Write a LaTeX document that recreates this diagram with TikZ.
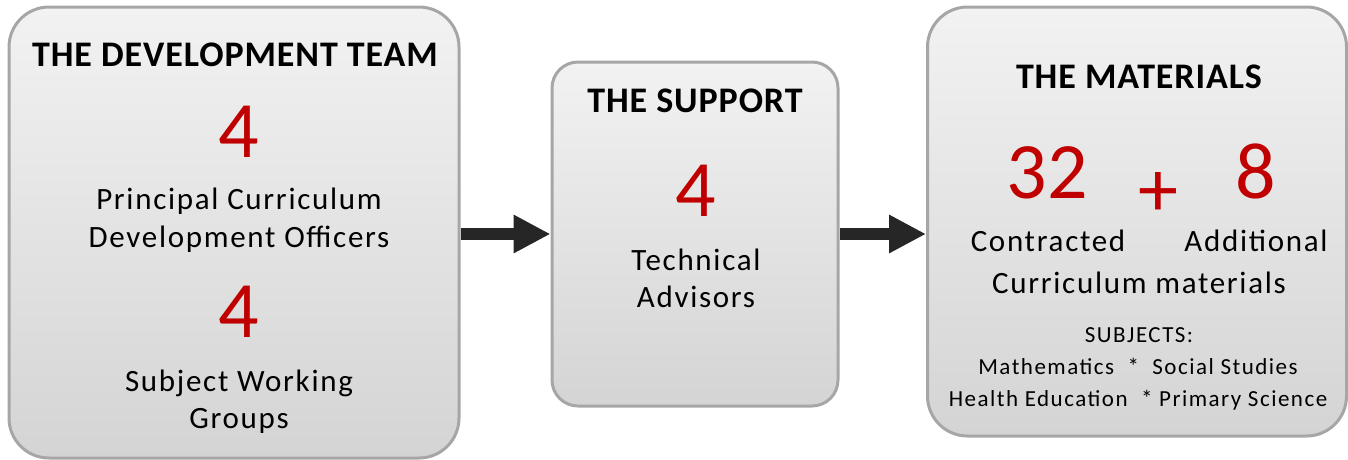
\documentclass[tikz,border=0pt]{standalone}
\usepackage{fontspec}
\setmainfont{Carlito}
\newfontfamily\headface[LetterSpace=2.5]{Carlito}
\newfontfamily\looseface[LetterSpace=5.5]{Carlito}
\newfontfamily\smallface[LetterSpace=6.5]{Carlito}
\usetikzlibrary{arrows.meta, positioning}

\definecolor{boxtop}{RGB}{242,242,242}
\definecolor{boxbot}{RGB}{212,212,212}
\definecolor{boxedge}{RGB}{166,166,166}
\definecolor{numred}{RGB}{192,0,0}
\definecolor{arrowgray}{RGB}{38,38,38}

\tikzset{
    base/.style={inner sep=0pt, anchor=base, text=black},
    panel/.style={rectangle, rounded corners=#1, draw=boxedge, line width=3pt, top color=boxtop, bottom color=boxbot, inner sep=0pt},
    heading/.style={base, font=\headface\bfseries\fontsize{36}{40}\selectfont},
    count/.style={base, text=numred, font=\fontsize{80}{84}\selectfont},
    label/.style={base, font=\looseface\fontsize{31}{36}\selectfont},
    small/.style={base, font=\smallface\fontsize{23}{27}\selectfont},
    arrow/.style={line width=12pt, color=arrowgray, -{Triangle[length=37pt, width=36pt]}}
}

\begin{document}
\begin{tikzpicture}[x=1pt, y=-1pt]
        \useasboundingbox (0,0) rectangle (1348,459);

        % Panels
        \node (dev) [panel=40pt, minimum width=450pt, minimum height=451pt] at (234,232.5) {};
        \node (sup) [panel=26pt, minimum width=286pt, minimum height=344pt] at (695,234) {};
        \node (mat) [panel=40pt, minimum width=419pt, minimum height=429pt] at (1137,221.5) {};

        % Development team
        \node (devtitle) [heading] at (235,66) {THE DEVELOPMENT TEAM};
        \node (devn1) [count] at (239,157) {4};
        \node (devl1) [label] at (239,209) {Principal Curriculum};
        \node (devl2) [label] at (239,247) {Development Officers};
        \node (devn2) [count] at (239,337) {4};
        \node (devl3) [label] at (239,391) {Subject Working};
        \node (devl4) [label] at (239,428) {Groups};

        % Support
        \node (suptitle) [heading] at (695,112) {THE SUPPORT};
        \node (supn) [count] at (696,216) {4};
        \node (supl1) [label] at (696,270) {Technical};
        \node (supl2) [label] at (696,307) {Advisors};

        % Materials
        \node (mattitle) [heading] at (1139,88) {THE MATERIALS};
        \node (matn1) [count] at (1047,198) {32};
        \node (plus) [count, anchor=center] at (1158,194) {+};
        \node (matn2) [count] at (1256,198) {8};
        \node (matl1) [label] at (1048,251) {Contracted};
        \node (matl2) [label] at (1256,251) {Additional};
        \node (matl3) [label] at (1139,293) {Curriculum materials};
        \node (subj) [small] at (1139,342) {SUBJECTS:};
        \node (subj1) [small] at (1138,374) {Mathematics~~*~~Social Studies};
        \node (subj2) [small] at (1138,406) {Health Education~~* Primary Science};

        % Flow
        \draw [arrow] (dev.east |- sup) -- (sup.west);
        \draw [arrow] (sup.east) -- (sup.east -| mat.west);
    \end{tikzpicture}
\end{document}
